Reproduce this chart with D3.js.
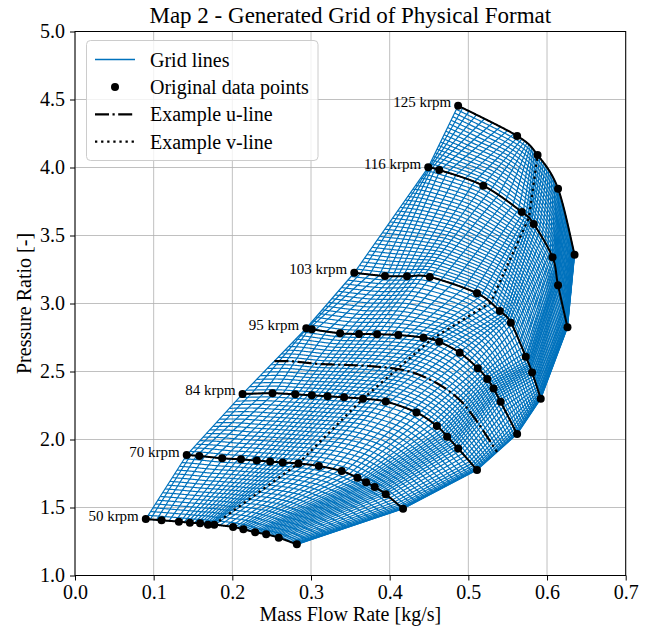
<!DOCTYPE html>
<html>
<head>
<meta charset="utf-8">
<script src="https://cdn.jsdelivr.net/npm/d3@7"></script>
<style>
  body { margin: 0; background: #fff; }
  text { font-family: "Liberation Serif", "Times New Roman", serif; }
</style>
</head>
<body>
<svg id="chart" width="654" height="631"></svg>
<script>
// speed lines of the map (original data points)
const speeds = [50, 70, 84, 95, 103, 116, 125];

const flow50 = [0.090, 0.110, 0.132, 0.146, 0.159, 0.169, 0.177, 0.201, 0.214, 0.229, 0.243, 0.259, 0.282];
const pr50   = [1.415, 1.406, 1.396, 1.388, 1.384, 1.374, 1.374, 1.357, 1.340, 1.318, 1.303, 1.278, 1.229];

const flow70 = [0.142, 0.158, 0.187, 0.211, 0.231, 0.248, 0.264, 0.284, 0.310, 0.339, 0.359, 0.370, 0.381, 0.395, 0.417];
const pr70   = [1.886, 1.879, 1.862, 1.854, 1.845, 1.838, 1.831, 1.824, 1.805, 1.768, 1.719, 1.685, 1.651, 1.597, 1.491];

const flow84 = [0.213, 0.251, 0.280, 0.301, 0.321, 0.342, 0.366, 0.395, 0.434, 0.460, 0.473, 0.487, 0.511];
const pr84   = [2.335, 2.340, 2.332, 2.325, 2.318, 2.310, 2.300, 2.279, 2.199, 2.099, 2.021, 1.934, 1.776];

const flow95 = [0.294, 0.301, 0.337, 0.361, 0.384, 0.411, 0.443, 0.463, 0.489, 0.512, 0.524, 0.532, 0.541, 0.562];
const pr95   = [2.818, 2.810, 2.781, 2.776, 2.774, 2.768, 2.749, 2.718, 2.638, 2.524, 2.445, 2.375, 2.277, 2.040];

const flow103 = [0.355, 0.394, 0.422, 0.451, 0.511, 0.540, 0.554, 0.573, 0.581, 0.592];
const pr103   = [3.226, 3.202, 3.200, 3.195, 3.075, 2.945, 2.859, 2.609, 2.493, 2.300];

const flow116 = [0.449, 0.463, 0.519, 0.568, 0.583, 0.607, 0.614, 0.626];
const pr116   = [4.001, 3.982, 3.866, 3.673, 3.585, 3.340, 3.134, 2.825];

const flow125 = [0.487, 0.562, 0.588, 0.614, 0.635];
const pr125   = [4.454, 4.232, 4.092, 3.844, 3.359];

const flows = [flow50, flow70, flow84, flow95, flow103, flow116, flow125];
const ratios = [pr50, pr70, pr84, pr95, pr103, pr116, pr125];

const xTicks = [0.0, 0.1, 0.2, 0.3, 0.4, 0.5, 0.6, 0.7];
const yTicks = [1.0, 1.5, 2.0, 2.5, 3.0, 3.5, 4.0, 4.5, 5.0];
const legendLabels = ["Grid lines", "Original data points", "Example u-line", "Example v-line"];

const W = 654, H = 631;
const margin = { top: 31.5, right: 28.3, bottom: 55.5, left: 75 };
const blue = "#0072bd";

const x = d3.scaleLinear().domain([0, 0.7]).range([margin.left, W - margin.right]);
const y = d3.scaleLinear().domain([1, 5]).range([H - margin.bottom, margin.top]);
const line = d3.line().x(d => x(d[0])).y(d => y(d[1]));

const svg = d3.select("#chart");
svg.append("rect").attr("width", W).attr("height", H).attr("fill", "#fff");

// background grid
const grid = svg.append("g").attr("stroke", "#b0b0b0").attr("stroke-width", 0.8);
grid.selectAll("line.gx").data(xTicks).join("line")
  .attr("x1", d => x(d)).attr("x2", d => x(d))
  .attr("y1", y(1)).attr("y2", y(5));
grid.selectAll("line.gy").data(yTicks).join("line")
  .attr("x1", x(0)).attr("x2", x(0.7))
  .attr("y1", d => y(d)).attr("y2", d => y(d));

// --- generated grid: v runs along a speed line by point index (clustered
// towards choke), u runs between neighbouring speed lines
const N = 56;        // v intervals
const vPow = 1.7;    // clustering of v-lines near choke
const FS = 480;      // samples along a speed line for smooth curves
const rowStep = 0.027;

const lines = flows.map((f, i) => d3.zip(f, ratios[i]));

function catmull(pts, v) {
  const n = pts.length;
  const t = v * (n - 1);
  const i = Math.min(Math.floor(t), n - 2);
  const s = t - i;
  const p0 = pts[Math.max(i - 1, 0)], p1 = pts[i], p2 = pts[i + 1], p3 = pts[Math.min(i + 2, n - 1)];
  const f = (a, b, c, d) => 0.5 * (2 * b + (-a + c) * s + (2 * a - 5 * b + 4 * c - d) * s * s + (-a + 3 * b - 3 * c + d) * s * s * s);
  return [f(p0[0], p1[0], p2[0], p3[0]), f(p0[1], p1[1], p2[1], p3[1])];
}

const fine = lines.map(pts => d3.range(FS + 1).map(j => catmull(pts, j / FS)));
const lerp = (a, b, s) => [a[0] + (b[0] - a[0]) * s, a[1] + (b[1] - a[1]) * s];

const uLines = [];
for (let i = 0; i < lines.length - 1; i++) {
  const n = Math.max(2, Math.round((ratios[i + 1][0] - ratios[i][0]) / rowStep));
  for (let r = 0; r <= n; r++) {
    uLines.push(fine[i].map((p, j) => lerp(p, fine[i + 1][j], r / n)));
  }
}
const vGrid = d3.range(N + 1).map(k => 1 - (1 - k / N) ** vPow);
const vLines = vGrid.map(v => lines.map(pts => catmull(pts, v)));

const mesh = svg.append("g").attr("fill", "none").attr("stroke", blue).attr("stroke-width", 1.2);
mesh.selectAll("path.u").data(uLines).join("path").attr("class", "u").attr("d", line);
mesh.selectAll("path.v").data(vLines).join("path").attr("class", "v").attr("d", line);

// example u-line (middle of 84-95 krpm) and v-line (v = 0.5)
const exU = fine[2].map((p, j) => lerp(p, fine[3][j], 0.5));
const exV = lines.map(pts => catmull(pts, 0.5));
svg.append("path").attr("d", line(exU)).attr("fill", "none")
  .attr("stroke", "#000").attr("stroke-width", 2.2).attr("stroke-dasharray", "14,3.5,2.2,3.5");
svg.append("path").attr("d", line(exV)).attr("fill", "none")
  .attr("stroke", "#000").attr("stroke-width", 2.3).attr("stroke-dasharray", "2.3,3.8");

// speed lines and original points
svg.append("g").selectAll("path").data(fine).join("path")
  .attr("d", line).attr("fill", "none").attr("stroke", "#000").attr("stroke-width", 2);

svg.append("g").selectAll("circle").data(lines.flat()).join("circle")
  .attr("cx", d => x(d[0])).attr("cy", d => y(d[1])).attr("r", 4).attr("fill", "#000");

svg.append("g").selectAll("text").data(lines).join("text")
  .attr("x", d => x(d[0][0]) - 7)
  .attr("y", d => y(d[0][1]) + 1.5)
  .attr("text-anchor", "end")
  .attr("font-size", 15)
  .text((d, i) => `${speeds[i]} krpm`);

// frame
svg.append("rect")
  .attr("x", x(0)).attr("y", y(5))
  .attr("width", x(0.7) - x(0)).attr("height", y(1) - y(5))
  .attr("fill", "none").attr("stroke", "#000").attr("stroke-width", 1);

// axes
const xAxis = svg.append("g").attr("transform", `translate(0,${y(1)})`)
  .call(d3.axisBottom(x).tickValues(xTicks).tickFormat(d3.format(".1f")).tickSize(5).tickSizeOuter(0).tickPadding(4));
const yAxis = svg.append("g").attr("transform", `translate(${x(0)},0)`)
  .call(d3.axisLeft(y).tickValues(yTicks).tickFormat(d3.format(".1f")).tickSize(5).tickSizeOuter(0).tickPadding(5));
[xAxis, yAxis].forEach(a => {
  a.select(".domain").remove();
  a.selectAll("text").attr("font-size", 20).attr("fill", "#000")
    .attr("font-family", "'Liberation Serif', 'Times New Roman', serif");
  a.selectAll("line").attr("stroke", "#000");
});

svg.append("text").attr("x", (x(0) + x(0.7)) / 2).attr("y", 23)
  .attr("text-anchor", "middle").attr("font-size", 23)
  .text("Map 2 - Generated Grid of Physical Format");
svg.append("text").attr("x", (x(0) + x(0.7)) / 2).attr("y", 621)
  .attr("text-anchor", "middle").attr("font-size", 20)
  .text("Mass Flow Rate [kg/s]");
svg.append("text").attr("transform", `translate(31,${(y(1) + y(5)) / 2}) rotate(-90)`)
  .attr("text-anchor", "middle").attr("font-size", 20)
  .text("Pressure Ratio [-]");

// legend
const lg = svg.append("g").attr("transform", "translate(86.5,40.5)");
lg.append("rect").attr("width", 231.5).attr("height", 120).attr("rx", 4)
  .attr("fill", "#fff").attr("fill-opacity", 0.8).attr("stroke", "#cccccc").attr("stroke-width", 1);
const rowY = i => 19 + i * 27.4;
const items = lg.selectAll("g").data(legendLabels).join("g")
  .attr("transform", (d, i) => `translate(0,${rowY(i)})`);
items.append("text").attr("x", 63.5).attr("dy", "0.35em").attr("font-size", 20).text(d => d);
items.filter((d, i) => i !== 1).append("line")
  .attr("x1", 8.5).attr("x2", 48.5)
  .attr("stroke", (d, i) => i === 0 ? blue : "#000")
  .attr("stroke-width", (d, i) => i === 0 ? 1.5 : 2.2)
  .attr("stroke-dasharray", (d, i) => ["", "14,3.5,2.2,3.5", "2.3,3.8"][i]);
items.filter((d, i) => i === 1).append("circle").attr("cx", 28.5).attr("r", 4).attr("fill", "#000");
</script>
</body>
</html>
